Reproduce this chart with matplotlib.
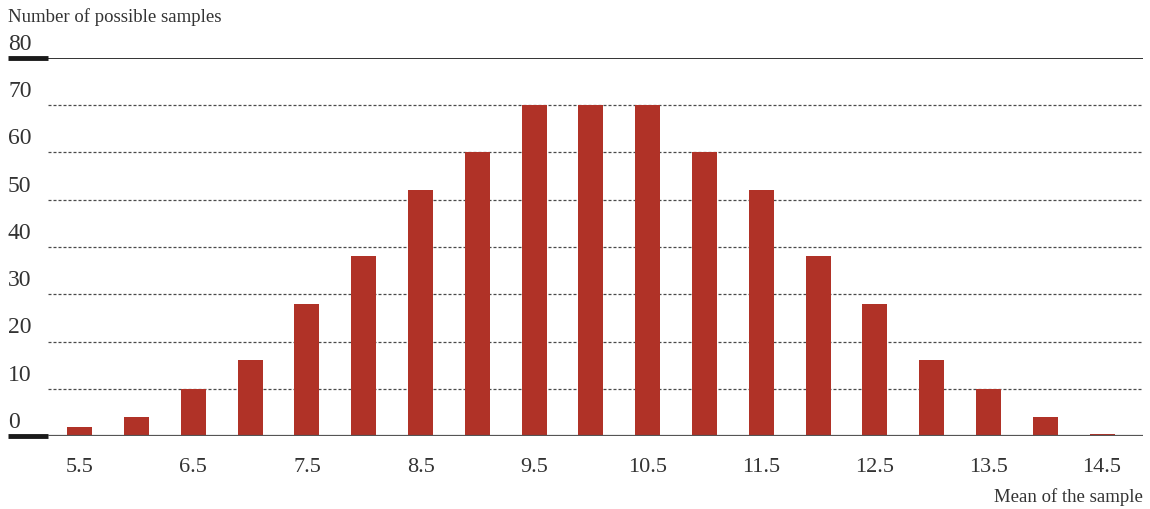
import matplotlib.pyplot as plt
import matplotlib.transforms as mtransforms
import numpy as np

# Data
sample_means = [5.5, 6.0, 6.5, 7.0, 7.5, 8.0, 8.5, 9.0, 9.5, 10.0,
                10.5, 11.0, 11.5, 12.0, 12.5, 13.0, 13.5, 14.0, 14.5]
possible_samples = [2, 4, 10, 16, 28, 38, 52, 60, 70, 70,
                    70, 60, 52, 38, 28, 16, 10, 4, 0.5]
x_tick_values = [5.5, 6.5, 7.5, 8.5, 9.5, 10.5, 11.5, 12.5, 13.5, 14.5]
y_tick_values = [0, 10, 20, 30, 40, 50, 60, 70, 80]

bar_color = '#b03227'
text_color = '#333333'
font = ['Liberation Serif', 'DejaVu Serif']

plt.rcParams['font.family'] = font

fig = plt.figure(figsize=(11.5, 5.1), dpi=100)
ax = fig.add_axes([48 / 1150, 1 - 437 / 510, (1143 - 48) / 1150, (437 - 59) / 510])

ax.bar(sample_means, possible_samples, width=0.22, color=bar_color, zorder=3)

ax.set_xlim(5.22, 14.86)
ax.set_ylim(0, 80)

# gridlines
for v in y_tick_values[1:-1]:
    ax.axhline(v, color='#4a4a4a', linewidth=0.9, linestyle=(0, (2.4, 1.6)), zorder=1)
ax.axhline(80, color='#222222', linewidth=1.3, zorder=2)
ax.axhline(0, color='#555555', linewidth=1.6, zorder=4)

for s in ax.spines.values():
    s.set_visible(False)

ax.set_yticks([])
ax.set_xticks(x_tick_values)
ax.set_xticklabels([f'{v:.1f}' for v in x_tick_values], fontsize=16, color=text_color)
ax.tick_params(axis='x', length=0, pad=15)

# y labels sitting above the lines, left aligned
trans = mtransforms.blended_transform_factory(fig.transFigure, ax.transData)
for v in y_tick_values:
    ax.annotate(str(v), xy=(8 / 1150, v), xycoords=trans, xytext=(0, 3),
                textcoords='offset points', ha='left', va='bottom',
                fontsize=17, color=text_color, annotation_clip=False)

# thick black marks at 0 and 80
for v in [0, 80]:
    ax.plot([8 / 1150, 48 / 1150], [v, v], transform=trans, color='#1a1a1a',
            linewidth=3.5, solid_capstyle='butt', clip_on=False)

fig.text(8 / 1150, 1 - 17 / 510, 'Number of possible samples', ha='left', va='center',
         fontsize=13.5, color=text_color)
fig.text(1143 / 1150, 1 - 497 / 510, 'Mean of the sample', ha='right', va='center',
         fontsize=13.5, color=text_color)

fig.savefig('out.png', dpi=100)
